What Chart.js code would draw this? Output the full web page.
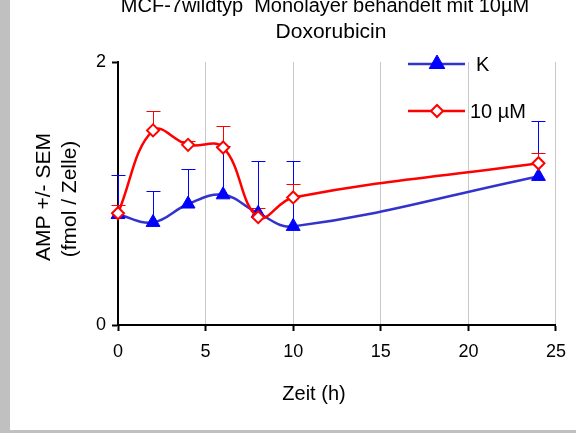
<!DOCTYPE html>
<html>
<head>
<meta charset="utf-8">
<script src="https://cdn.jsdelivr.net/npm/chart.js@4.4.1/dist/chart.umd.min.js"></script>
<style>
html, body { margin: 0; padding: 0; background: #c0c0c0; width: 576px; height: 433px; overflow: hidden; }
#frame { position: absolute; left: 10px; top: 0; width: 566px; height: 430px; background: #fff; }
canvas { display: block; }
</style>
</head>
<body>
<div id="frame"><canvas id="amp" width="566" height="430"></canvas></div>
<script>
// time points (h)
var times = [0, 2, 4, 6, 8, 10, 24];

// control (K)
var kMean = [0.84, 0.78, 0.92, 0.99, 0.85, 0.75, 1.13];
var kSem  = [0.30, 0.24, 0.27, 0.37, 0.40, 0.50, 0.42];

// 10 µM doxorubicin
var doxMean = [0.85, 1.48, 1.37, 1.35, 0.82, 0.97, 1.23];
var doxSem  = [0.06, 0.15, 0.03, 0.16, 0.07, 0.10, 0.08];

var xTicks = [0, 5, 10, 15, 20, 25];
var yTicks = [0, 2];

var FONT = "'Liberation Sans', Arial, sans-serif";

function points(ys) {
	return times.map(function(t, i) { return { x: t, y: ys[i] }; });
}

/*
 * Upper half of the SEM bars, drawn under the lines
 */
var errorBars = {
	id: 'errorBars',
	beforeDatasetsDraw: function(chart) {
		var ctx = chart.ctx,
			xs = chart.scales.x,
			ys = chart.scales.y;
		chart.data.datasets.forEach(function(ds) {
			ctx.save();
			ctx.strokeStyle = ds.barColor;
			ctx.lineWidth = 1;
			ds.data.forEach(function(p, i) {
				var px = Math.round(xs.getPixelForValue(p.x)) + 0.5,
					y0 = ys.getPixelForValue(p.y),
					y1 = Math.round(ys.getPixelForValue(p.y + ds.sem[i])) + 0.5;
				ctx.beginPath();
				ctx.moveTo(px, y0);
				ctx.lineTo(px, y1);
				ctx.moveTo(px - 7, y1);
				ctx.lineTo(px + 7, y1);
				ctx.stroke();
			});
			ctx.restore();
		});
	}
};

/*
 * Title, axis titles and the legend inside the plot
 */
var frameText = {
	id: 'frameText',
	afterDraw: function(chart) {
		var ctx = chart.ctx;
		ctx.save();
		ctx.fillStyle = '#000';
		ctx.textAlign = 'center';
		ctx.textBaseline = 'alphabetic';
		ctx.font = '20px ' + FONT;
		ctx.fillText('MCF-7wildtyp  Monolayer behandelt mit 10µM', 315, 12);
		ctx.font = '21px ' + FONT;
		ctx.fillText('Doxorubicin', 321, 38);

		ctx.save();
		ctx.translate(34, 197);
		ctx.rotate(-Math.PI / 2);
		ctx.textBaseline = 'middle';
		ctx.fillText('AMP +/- SEM', 0, 0);
		ctx.restore();
		ctx.save();
		ctx.translate(60, 199);
		ctx.rotate(-Math.PI / 2);
		ctx.textBaseline = 'middle';
		ctx.fillText('(fmol / Zelle)', 0, 0);
		ctx.restore();

		ctx.font = '20px ' + FONT;
		ctx.textBaseline = 'middle';
		ctx.fillText('Zeit (h)', 304, 394);

		// legend
		var rows = [
			{ ds: chart.data.datasets[0], y: 64, tx: 466, r: 9 },
			{ ds: chart.data.datasets[1], y: 111, tx: 460, r: 6 }
		];
		rows.forEach(function(row) {
			ctx.strokeStyle = row.ds.borderColor;
			ctx.lineWidth = row.ds.borderWidth;
			ctx.beginPath();
			ctx.moveTo(398, row.y);
			ctx.lineTo(455, row.y);
			ctx.stroke();
			ctx.fillStyle = row.ds.pointBackgroundColor;
			ctx.strokeStyle = row.ds.pointBorderColor;
			ctx.lineWidth = row.ds.pointBorderWidth;
			Chart.helpers.drawPoint(ctx, {
				pointStyle: row.ds.pointStyle,
				radius: row.r,
				rotation: 0,
				borderWidth: row.ds.pointBorderWidth
			}, 427, row.y);
			ctx.fillStyle = '#000';
			ctx.textAlign = 'left';
			ctx.fillText(row.ds.label, row.tx, row.y + 1);
		});
		ctx.restore();
	}
};

new Chart(document.getElementById('amp'), {
	type: 'line',
	data: {
		datasets: [
			{
				label: 'K',
				data: points(kMean),
				sem: kSem,
				barColor: '#0000ff',
				borderColor: '#3333cc',
				borderWidth: 2.5,
				pointStyle: 'triangle',
				pointRadius: 8,
				pointBackgroundColor: '#0000ff',
				pointBorderColor: '#0000ff',
				pointBorderWidth: 1,
				tension: 0.4,
				clip: false,
				order: 1
			},
			{
				label: '10 µM',
				data: points(doxMean),
				sem: doxSem,
				barColor: '#ff0000',
				borderColor: '#ff0000',
				borderWidth: 2.5,
				pointStyle: 'rectRot',
				pointRadius: 6,
				pointBackgroundColor: '#ffffff',
				pointBorderColor: '#ff0000',
				pointBorderWidth: 2,
				tension: 0.4,
				clip: false,
				order: 0
			}
		]
	},
	options: {
		responsive: false,
		animation: false,
		layout: { padding: { top: 62, right: 19, bottom: 0, left: 0 } },
		plugins: {
			legend: { display: false },
			title: { display: false },
			tooltip: { enabled: false }
		},
		scales: {
			x: {
				type: 'linear',
				min: xTicks[0],
				max: xTicks[xTicks.length - 1],
				afterBuildTicks: function(s) { s.ticks = xTicks.map(function(v) { return { value: v }; }); },
				afterFit: function(s) { s.height = 105; },
				ticks: { color: '#000', font: { family: FONT, size: 18 }, padding: 10, maxRotation: 0 },
				grid: { color: '#c8c8c8', lineWidth: 1, tickColor: '#000', tickLength: 6, tickWidth: 2 },
				border: { color: '#000', width: 2 }
			},
			y: {
				min: yTicks[0],
				max: yTicks[yTicks.length - 1],
				afterBuildTicks: function(s) { s.ticks = yTicks.map(function(v) { return { value: v }; }); },
				afterFit: function(s) { s.width = 108; },
				ticks: { color: '#000', font: { family: FONT, size: 18 }, padding: 6 },
				grid: { drawOnChartArea: false, tickColor: '#000', tickLength: 6, tickWidth: 2 },
				border: { color: '#000', width: 2 }
			}
		}
	},
	plugins: [errorBars, frameText]
});
</script>
</body>
</html>
